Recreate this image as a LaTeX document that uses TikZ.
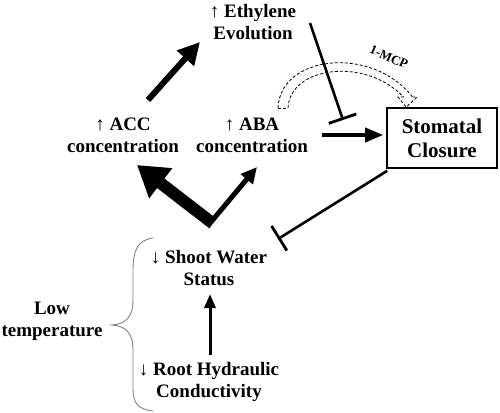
\documentclass[tikz,border=0pt]{standalone}
\usepackage{fontspec}
\setmainfont{Liberation Serif}
\usetikzlibrary{arrows.meta,calc}
\begin{document}
\begin{tikzpicture}[x=1pt,y=-1pt,
  lbl/.style={inner sep=0pt,align=center,font=\fontsize{19}{22}\selectfont\bfseries},
  boxst/.style={draw,line width=1.6pt,minimum width=110pt,minimum height=60pt,inner sep=0pt,align=center,font=\fontsize{21}{24}\selectfont\bfseries},
  inhib/.style={line width=2.6pt},
  dsh/.style={dash pattern=on 3pt off 2pt,line width=0.8pt},
  brace/.style={draw=gray,line width=0.9pt}]
\useasboundingbox (0,0) rectangle (500,412);
% nodes
\node[lbl] (eth) at (253,22) {\textmd{↑} Ethylene\\Evolution};
\node[lbl] (acc) at (123,135) {\textmd{↑} ACC\\concentration};
\node[lbl] (aba) at (252,135) {\textmd{↑} ABA\\concentration};
\node[boxst] (stom) at (442,138) {Stomatal\\Closure};
\node[lbl] (shoot) at (209,268) {\textmd{↓} Shoot Water\\Status};
\node[lbl] (root) at (209,382) {\textmd{↓} Root Hydraulic\\Conductivity};
\node[lbl] (low) at (52,321) {Low\\temperature};
% coordinates
\coordinate (v) at (211,222);
\coordinate (accT) at (148,100);
\coordinate (ethH) at (200,42);
\coordinate (accH) at (137,165);
\coordinate (abaH) at (257,167);
\coordinate (abaR) at (322,135);
\coordinate (stomL) at ($(stom.west)+(-3,-3)$);
\coordinate (ethS) at (310,23);
\coordinate (ethE) at (343,120);
\coordinate (stomB) at ($(stom.south west)+(1,2)$);
\coordinate (shootR) at (278,239);
\coordinate (rootT) at (210,355);
\coordinate (shootB) at (210,294);
\coordinate (mcpS) at (283,108);
\coordinate (mcpE) at (408,97);
% brace
\draw[brace] (153,238) .. controls (138,240) and (133,250) .. (133,270) -- (133,300)
  .. controls (133,318) and (125,324) .. (112,325)
  .. controls (125,326) and (133,332) .. (133,350) -- (133,388)
  .. controls (133,404) and (138,409) .. (153,411);
% dashed hollow arrow (1-MCP)
\draw[dsh] ($(mcpS)+(-5,0)$) .. controls (280,55) and (372,45) .. ($(mcpE)+(4.5,0)$);
\draw[dsh] ($(mcpS)+(5,0)$) .. controls (290,66) and (366,57) .. ($(mcpE)+(-4.5,0)$);
\draw[dsh] ($(mcpS)+(-5,0)$) -- ($(mcpS)+(5,0)$);
\draw[dsh]
  ($(mcpE)+(-4.5,0)$) -- ($(mcpE)+(-10,0)$) -- ($(stom.north west)+(20,0)$) -- ($(mcpE)+(9,0)$) -- ($(mcpE)+(4.5,0)$);
\node[font=\fontsize{13}{13}\selectfont\bfseries,rotate=-24,inner sep=0pt] (mcp) at (389,57) {1-MCP};
% arrows
\draw[line width=6pt,-{Triangle[length=22pt,width=22pt]}] (accT) -- (ethH);
\draw[line width=12pt,-{Triangle[length=30pt,width=36pt]}] (v) -- (accH);
\draw[line width=5pt,-{Triangle[length=16pt,width=15pt]}] (v) -- (abaH);
\fill ($(v)+(-3.9,4.5)$) -- ($(v)+(-1.75,6.4)$) -- ($(v)+(2,1.5)$) -- (v) -- cycle;
\draw[line width=3.6pt,-{Triangle[length=18pt,width=14pt]}] (abaR) -- (stomL);
\draw[line width=3pt,-{Triangle[length=14pt,width=11pt]}] (rootT) -- (shootB);
% inhibitions
\draw[inhib,-{Bar[width=29pt,line width=2.8pt]}] (ethS) -- (ethE);
\draw[inhib,-{Bar[width=29pt,line width=2.8pt]}] (stomB) -- (shootR);
\end{tikzpicture}
\end{document}
